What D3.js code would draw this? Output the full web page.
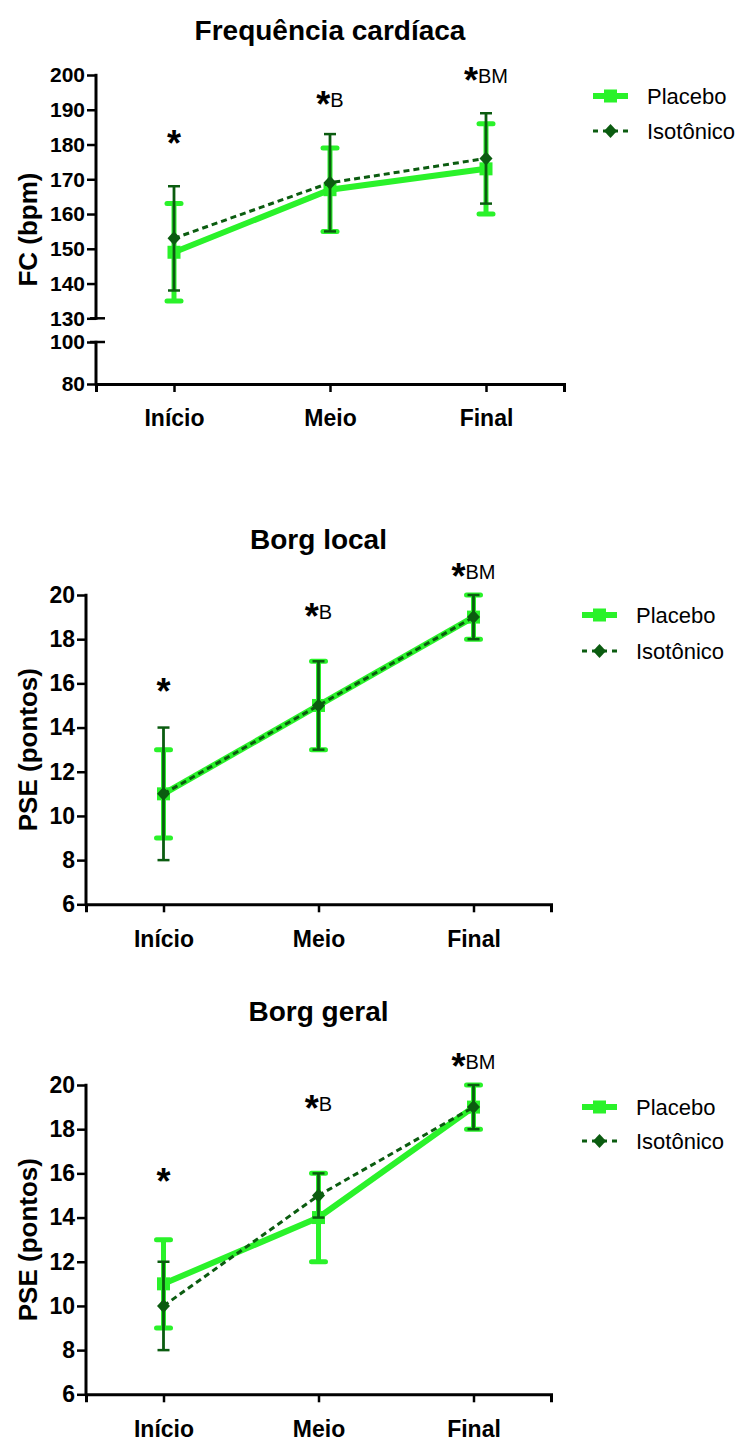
<!DOCTYPE html>
<html>
<head>
<meta charset="utf-8">
<script src="https://cdn.jsdelivr.net/npm/d3@7"></script>
<style>
  body { margin: 0; background: #fff; }
  svg { display: block; }
  text { font-family: "Liberation Sans", Arial, sans-serif; fill: #000; }
</style>
</head>
<body>
<svg id="fig" width="752" height="1441"></svg>
<script>
// ---- data ----
const categories = ["Início", "Meio", "Final"];
const seriesNames = ["Placebo", "Isotônico"];
const significance = ["", "B", "BM"];

// Frequência cardíaca (bpm): mean and SD
const fcPlaceboMean = [149, 167, 173];
const fcPlaceboSD = [14, 12, 13];
const fcIsoMean = [153, 169, 176];
const fcIsoSD = [15, 14, 13];
const fcTicks = [80, 100, 130, 140, 150, 160, 170, 180, 190, 200];
const fcMarkLevel = [182.7, 194, 201];

// Borg local (PSE, pontos)
const localPlaceboMean = [11, 15, 19];
const localPlaceboSD = [2, 2, 1];
const localIsoMean = [11, 15, 19];
const localIsoSD = [3, 2, 1];
const localMarkLevel = [16, 19.4, 21.2];

// Borg geral (PSE, pontos)
const geralPlaceboMean = [11, 14, 19];
const geralPlaceboSD = [2, 2, 1];
const geralIsoMean = [10, 15, 19];
const geralIsoSD = [2, 1, 1];
const geralMarkLevel = [16, 19.3, 21.2];

const borgTicks = [6, 8, 10, 12, 14, 16, 18, 20];

// ---- styles ----
const BRIGHT = "#2af22a";
const DARK = "#0b5c10";

const svg = d3.select("#fig");

const panels = [
  {
    title: "Frequência cardíaca", yLabel: "FC (bpm)",
    left: 96, right: 564, axisY: 384,
    yDomain: [80, 100, 130, 200], yRange: [384, 342, 318.3, 75],
    segments: [[80, 100], [130, 200]], breaks: [100, 130],
    ticks: fcTicks, tickFont: 21,
    titleY: 40,
    legendX: 593, legendY: 96, legendGap: 35,
    placebo: [fcPlaceboMean, fcPlaceboSD], iso: [fcIsoMean, fcIsoSD],
    marks: fcMarkLevel
  },
  {
    title: "Borg local", yLabel: "PSE (pontos)",
    left: 86, right: 551, axisY: 904.3,
    yDomain: [6, 20], yRange: [904.3, 595],
    segments: [[6, 20]], breaks: [],
    ticks: borgTicks, tickFont: 23,
    titleY: 549,
    legendX: 582, legendY: 615, legendGap: 36,
    placebo: [localPlaceboMean, localPlaceboSD], iso: [localIsoMean, localIsoSD],
    marks: localMarkLevel
  },
  {
    title: "Borg geral", yLabel: "PSE (pontos)",
    left: 86, right: 551, axisY: 1394.3,
    yDomain: [6, 20], yRange: [1394.3, 1085],
    segments: [[6, 20]], breaks: [],
    ticks: borgTicks, tickFont: 23,
    titleY: 1021,
    legendX: 582, legendY: 1107, legendGap: 34,
    placebo: [geralPlaceboMean, geralPlaceboSD], iso: [geralIsoMean, geralIsoSD],
    marks: geralMarkLevel
  }
];

function diamondPath(cx, cy, hw, hh) {
  return `M${cx},${cy - hh}L${cx + hw},${cy}L${cx},${cy + hh}L${cx - hw},${cy}Z`;
}

function drawPanel(p) {
  const g = svg.append("g");
  const x = d3.scalePoint().domain(categories).range([p.left, p.right]).padding(0.5);
  const y = d3.scaleLinear().domain(p.yDomain).range(p.yRange);

  // title, centred over the plot area
  g.append("text")
    .attr("x", (p.left + p.right) / 2).attr("y", p.titleY)
    .attr("text-anchor", "middle")
    .style("font-weight", "bold").style("font-size", "28px")
    .text(p.title);

  // y axis label
  const midY = (d3.min(p.yRange) + d3.max(p.yRange)) / 2;
  g.append("text")
    .attr("transform", `translate(37,${midY}) rotate(-90)`)
    .attr("text-anchor", "middle")
    .style("font-weight", "bold").style("font-size", "26px")
    .text(p.yLabel);

  // y axis (ticks from d3, axis line drawn per segment)
  const ya = g.append("g")
    .attr("transform", `translate(${p.left},0)`)
    .call(d3.axisLeft(y).tickValues(p.ticks).tickSize(9).tickPadding(2).tickFormat(d3.format("d")));
  ya.select(".domain").remove();
  ya.selectAll(".tick line").attr("stroke", "#000").attr("stroke-width", 2.5);
  ya.selectAll(".tick text")
    .style("font-family", '"Liberation Sans", Arial, sans-serif')
    .style("font-weight", "bold").style("font-size", p.tickFont + "px")
    .attr("fill", "#000");

  p.segments.forEach(s => {
    g.append("line")
      .attr("x1", p.left).attr("x2", p.left)
      .attr("y1", y(s[0]) + 1.5).attr("y2", y(s[1]) - 1.2)
      .attr("stroke", "#000").attr("stroke-width", 3);
  });
  p.breaks.forEach(b => {
    g.append("line")
      .attr("x1", p.left - 6).attr("x2", p.left + 9)
      .attr("y1", y(b)).attr("y2", y(b))
      .attr("stroke", "#000").attr("stroke-width", 2.5);
  });

  // x axis
  const xa = g.append("g")
    .attr("transform", `translate(0,${p.axisY})`)
    .call(d3.axisBottom(x).tickSizeOuter(0).tickSize(8).tickPadding(18));
  xa.select(".domain").attr("stroke", "#000").attr("stroke-width", 3);
  xa.selectAll(".tick line").attr("stroke", "#000").attr("stroke-width", 2.5);
  xa.selectAll(".tick text")
    .style("font-family", '"Liberation Sans", Arial, sans-serif')
    .style("font-weight", "bold").style("font-size", "23px")
    .attr("fill", "#000");

  const line = d3.line().x((d, i) => x(categories[i])).y(d => y(d));

  // Placebo
  const [pm, ps] = p.placebo;
  const pg = g.append("g");
  pg.append("path").datum(pm).attr("d", line)
    .attr("fill", "none").attr("stroke", BRIGHT).attr("stroke-width", 6);
  pm.forEach((m, i) => {
    const cx = x(categories[i]);
    pg.append("line").attr("x1", cx).attr("x2", cx)
      .attr("y1", y(m - ps[i])).attr("y2", y(m + ps[i]))
      .attr("stroke", BRIGHT).attr("stroke-width", 5);
    [m - ps[i], m + ps[i]].forEach(v => {
      pg.append("line").attr("x1", cx - 7).attr("x2", cx + 7)
        .attr("y1", y(v)).attr("y2", y(v))
        .attr("stroke", BRIGHT).attr("stroke-width", 5).attr("stroke-linecap", "round");
    });
    pg.append("rect").attr("x", cx - 6.5).attr("y", y(m) - 6.5)
      .attr("width", 13).attr("height", 13).attr("fill", BRIGHT);
  });

  // Isotônico
  const [im, is] = p.iso;
  const ig = g.append("g");
  ig.append("path").datum(im).attr("d", line)
    .attr("fill", "none").attr("stroke", DARK).attr("stroke-width", 3)
    .attr("stroke-dasharray", "6,4");
  im.forEach((m, i) => {
    const cx = x(categories[i]);
    ig.append("line").attr("x1", cx).attr("x2", cx)
      .attr("y1", y(m - is[i])).attr("y2", y(m + is[i]))
      .attr("stroke", DARK).attr("stroke-width", 2.8);
    [m - is[i], m + is[i]].forEach(v => {
      ig.append("line").attr("x1", cx - 6).attr("x2", cx + 6)
        .attr("y1", y(v)).attr("y2", y(v))
        .attr("stroke", DARK).attr("stroke-width", 2.5);
    });
    ig.append("path").attr("d", diamondPath(cx, y(m), 6.5, 7)).attr("fill", DARK);
  });

  // significance marks
  p.marks.forEach((lv, i) => {
    const c = y(lv);
    const t = g.append("text")
      .attr("x", x(categories[i])).attr("y", c + 21)
      .attr("text-anchor", "middle");
    t.append("tspan").style("font-size", "36px").style("font-weight", "bold").text("*");
    if (significance[i]) {
      t.append("tspan").style("font-size", "20px").attr("dy", -10).text(significance[i]);
    }
  });

  // legend
  const lg = g.append("g");
  const lx = p.legendX, ly = p.legendY, gap = p.legendGap;
  lg.append("line").attr("x1", lx).attr("x2", lx + 35).attr("y1", ly).attr("y2", ly)
    .attr("stroke", BRIGHT).attr("stroke-width", 6);
  lg.append("rect").attr("x", lx + 11).attr("y", ly - 6.5).attr("width", 13).attr("height", 13).attr("fill", BRIGHT);
  lg.append("text").attr("x", lx + 54).attr("y", ly + 8).style("font-size", "22px").text(seriesNames[0]);

  lg.append("line").attr("x1", lx).attr("x2", lx + 35).attr("y1", ly + gap).attr("y2", ly + gap)
    .attr("stroke", DARK).attr("stroke-width", 3).attr("stroke-dasharray", "5,5");
  lg.append("path").attr("d", diamondPath(lx + 17.5, ly + gap, 6.5, 7)).attr("fill", DARK);
  lg.append("text").attr("x", lx + 54).attr("y", ly + gap + 8).style("font-size", "22px").text(seriesNames[1]);
}

panels.forEach(drawPanel);
</script>
</body>
</html>
